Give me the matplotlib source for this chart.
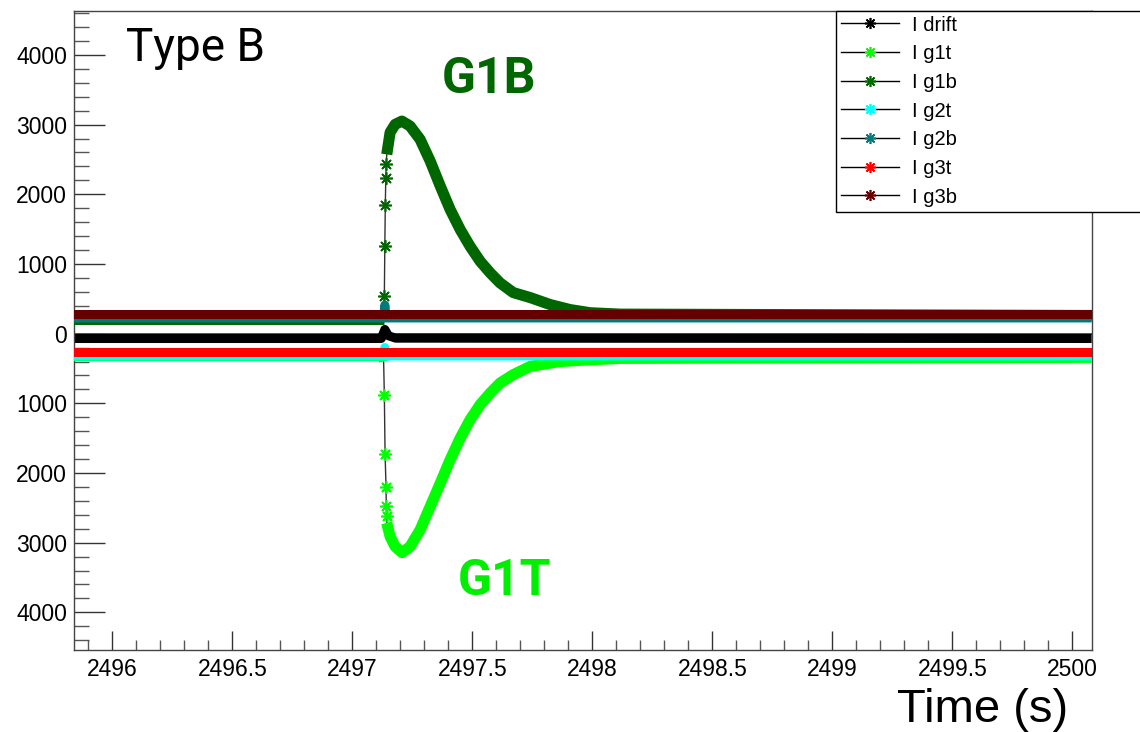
import matplotlib
matplotlib.use("Agg")
import matplotlib.pyplot as plt
from matplotlib.lines import Line2D
from matplotlib.ticker import MultipleLocator, FuncFormatter

# --- data (time in s, current) ---
T_START, T_END = 2495.83, 2500.08

DRIFT_T = [T_START, 2497.12, 2497.135, 2497.15, 2497.18, T_END]
DRIFT_V = [-70, -70, 60, -30, -65, -70]

G1T_PRE_T = [T_START, 2497.125, 2497.13]
G1T_PRE_V = [-330, -330, -400]
G1T_RISE_T = [2497.133, 2497.136, 2497.140, 2497.141, 2497.142]
G1T_RISE_V = [-886, -1728, -2194, -2467, -2610]
G1T_POST_T = [2497.143, 2497.157, 2497.178, 2497.207, 2497.240, 2497.282,
              2497.324, 2497.366, 2497.407, 2497.449, 2497.490, 2497.532,
              2497.574, 2497.615, 2497.670, 2497.741, 2497.865, 2497.990,
              2498.115, T_END]
G1T_POST_V = [-2716, -2912, -3056, -3142, -3056, -2816, -2481, -2145, -1810,
              -1499, -1236, -1020, -853, -709, -589, -470, -400, -375, -355,
              -340]

G1B_PRE_T = [T_START, 2497.13]
G1B_PRE_V = [200, 200]
G1B_RISE_T = [2497.133, 2497.135, 2497.137, 2497.139, 2497.141]
G1B_RISE_V = [546, 1264, 1853, 2227, 2428]
G1B_POST_T = [2497.143, 2497.157, 2497.178, 2497.206, 2497.240, 2497.282,
              2497.324, 2497.366, 2497.407, 2497.449, 2497.490, 2497.532,
              2497.574, 2497.615, 2497.670, 2497.741, 2497.824, 2497.907,
              2497.990, 2498.115, T_END]
G1B_POST_V = [2572, 2888, 3003, 3050, 2980, 2787, 2476, 2117, 1782, 1494,
              1254, 1039, 872, 728, 589, 517, 417, 345, 300, 280, 260]

G2T_T = [T_START, 2497.13, 2497.135, 2497.14, T_END]
G2T_V = [-320, -320, -200, -320, -320]
G2B_T = [T_START, 2497.13, 2497.135, 2497.14, T_END]
G2B_V = [225, 225, 410, 225, 225]
G3T_T = [T_START, T_END]
G3T_V = [-258, -258]
G3B_T = [T_START, T_END]
G3B_V = [288, 288]

LABELS = ["I drift", "I g1t", "I g1b", "I g2t", "I g2b", "I g3t", "I g3b"]
COLORS = ["#000000", "#00ff00", "#006600", "#00ffff", "#007a7a", "#ff0000",
          "#660000"]

TICK_FONT = "Liberation Sans"
STAR = (8, 2, 0)   # ROOT-style asterisk marker
BAND = 6.5          # dense markers look like a thick band
PULSE_BAND = 8.0


def band(ax, t, v, color, z, lw=BAND):
    ax.plot(t, v, color=color, lw=lw, solid_capstyle="butt",
            solid_joinstyle="round", zorder=z)


def main():
    fig = plt.figure(figsize=(11.4, 7.32), dpi=100)
    W, H = 1140, 732
    ax = fig.add_axes([74 / W, 82 / H, (1091.7 - 74) / W, (650 - 11) / H])

    ax.axhline(0, color="#2a2a99", lw=1.2, zorder=1)

    # drift
    band(ax, DRIFT_T, DRIFT_V, COLORS[0], 2)

    # g1t: baseline, sparse fall, dense recovery
    allt = G1T_PRE_T + G1T_RISE_T + G1T_POST_T
    allv = G1T_PRE_V + G1T_RISE_V + G1T_POST_V
    ax.plot(allt, allv, color="#333333", lw=1, zorder=3)
    band(ax, G1T_PRE_T, G1T_PRE_V, COLORS[1], 3)
    band(ax, G1T_POST_T, G1T_POST_V, COLORS[1], 3, PULSE_BAND)
    ax.plot(G1T_RISE_T, G1T_RISE_V, ls="none", marker=STAR, ms=9, mew=1.2,
            color=COLORS[1], zorder=3)

    # g1b
    allt = G1B_PRE_T + G1B_RISE_T + G1B_POST_T
    allv = G1B_PRE_V + G1B_RISE_V + G1B_POST_V
    ax.plot(allt, allv, color="#333333", lw=1, zorder=4)
    band(ax, G1B_PRE_T, G1B_PRE_V, COLORS[2], 4)
    band(ax, G1B_POST_T, G1B_POST_V, COLORS[2], 4, PULSE_BAND)
    ax.plot(G1B_RISE_T, G1B_RISE_V, ls="none", marker=STAR, ms=9, mew=1.2,
            color=COLORS[2], zorder=4)

    band(ax, G2T_T, G2T_V, COLORS[3], 5)
    band(ax, G2B_T, G2B_V, COLORS[4], 6)
    band(ax, G3T_T, G3T_V, COLORS[5], 7)
    band(ax, G3B_T, G3B_V, COLORS[6], 8)

    ax.set_xlim(2495.84, 2500.08)
    ax.set_ylim(-4540, 4630)

    ax.xaxis.set_major_locator(MultipleLocator(0.5))
    ax.xaxis.set_minor_locator(MultipleLocator(0.1))
    ax.yaxis.set_major_locator(MultipleLocator(1000))
    ax.yaxis.set_minor_locator(MultipleLocator(200))
    ax.xaxis.set_major_formatter(FuncFormatter(lambda v, p: f"{v:g}"))
    # ROOT lost the minus signs in the original picture
    ax.yaxis.set_major_formatter(FuncFormatter(lambda v, p: f"{abs(v):.0f}"))

    ax.tick_params(axis="y", which="major", direction="in", length=22,
                   width=1, color="#333333", pad=5, right=False)
    ax.tick_params(axis="y", which="minor", direction="in", length=11,
                   width=1, color="#555555", right=False)
    ax.tick_params(axis="x", which="major", direction="in", length=14,
                   width=1, color="#333333", pad=6, top=False)
    ax.tick_params(axis="x", which="minor", direction="in", length=7,
                   width=1, color="#555555", top=False)
    for lab in ax.get_xticklabels() + ax.get_yticklabels():
        lab.set_fontfamily(TICK_FONT)
        lab.set_fontsize(16.5)

    for side in ["left", "bottom", "right", "top"]:
        ax.spines[side].set_color("#444444")
        ax.spines[side].set_linewidth(1)

    handles = [Line2D([0], [0], color="black", lw=1, marker=STAR, ms=8,
                      mew=1.2, markeredgecolor=c, markerfacecolor=c)
               for c in COLORS]
    leg = fig.legend(handles, LABELS, loc="upper left",
                     bbox_to_anchor=(836 / W, 1 - 10.5 / H, 310 / W, 0),
                     mode="expand", frameon=True, fancybox=False,
                     edgecolor="black", framealpha=1, borderpad=0.25,
                     borderaxespad=0, handlelength=2.9, handletextpad=0.6,
                     labelspacing=0.48, numpoints=1,
                     prop={"family": TICK_FONT, "size": 14.5})
    leg.get_frame().set_linewidth(1)

    fig.text(126 / W, 1 - 61 / H, "Type B", family="Roboto", fontsize=33,
             ha="left", va="baseline")
    fig.text(489 / W, 1 - 93 / H, "G1B", family="Roboto", weight="bold",
             fontsize=36, color="#006600", ha="center", va="baseline")
    fig.text(505 / W, 1 - 595 / H, "G1T", family="Roboto", weight="bold",
             fontsize=36, color="#00ee00", ha="center", va="baseline")
    fig.text(1068 / W, 1 - 722 / H, "Time (s)", family="Liberation Sans",
             fontsize=34, ha="right", va="baseline")

    fig.savefig("out.png", dpi=100)
    plt.close(fig)


if __name__ == "__main__":
    main()
